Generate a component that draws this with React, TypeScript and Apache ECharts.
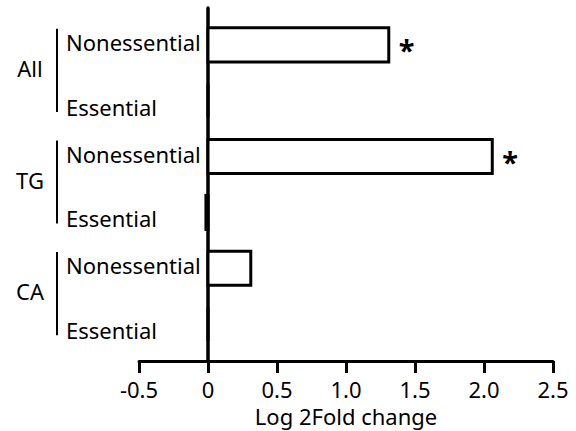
import React, { useEffect, useRef } from "react";
import * as echarts from "echarts";

// Rows, top to bottom: each group has a Nonessential and an Essential row
const categories = ["Nonessential", "Essential", "Nonessential", "Essential", "Nonessential", "Essential"];
const groups = ["All", "TG", "CA"];
const log2FoldChange = [1.31, 0, 2.06, -0.015, 0.31, 0];
const significant = [true, false, true, false, false, false];
const xMin = -0.5;
const xMax = 2.5;
const xStep = 0.5;

const FONT = '"Noto Sans", sans-serif';
const TEXT_SIZE = 22;
const Y_PAD = 0.66; // empty space above the first and below the last row, in row units
const BAR_SIZE = 0.61; // bar thickness, in row units
const GRID_LEFT = 139;
const GRID_RIGHT = 23;
const ROW_LABEL_WIDTH = 137;

export default function App() {
  const ref = useRef<HTMLDivElement>(null);

  useEffect(() => {
    const chart = echarts.init(ref.current!, null, { renderer: "svg" });

    chart.setOption({
      animation: false,
      backgroundColor: "#ffffff",
      grid: { left: GRID_LEFT, right: GRID_RIGHT, top: 8, bottom: 70, containLabel: false, outerBoundsMode: "none" },
      xAxis: {
        type: "value",
        min: xMin,
        max: xMax,
        interval: xStep,
        axisLine: { onZero: false, lineStyle: { color: "#000", width: 3 } },
        axisTick: { show: true, inside: false, length: 12, lineStyle: { color: "#000", width: 3 } },
        splitLine: { show: false },
        axisLabel: {
          color: "#000",
          fontFamily: FONT,
          fontSize: TEXT_SIZE,
          lineHeight: 18,
          margin: 19,
          formatter: (v: number) => (v === 0 ? "0" : v.toFixed(1)),
        },
        name: "Log 2Fold change",
        nameLocation: "middle",
        nameGap: 44,
        nameTextStyle: { color: "#000", fontFamily: FONT, fontSize: TEXT_SIZE, lineHeight: 18 },
      },
      yAxis: {
        type: "value",
        inverse: true,
        min: -Y_PAD,
        max: categories.length - 1 + Y_PAD,
        axisLine: { show: true, onZero: true, lineStyle: { color: "#000", width: 3.5 } },
        axisTick: { show: false },
        splitLine: { show: false },
        axisLabel: {
          customValues: categories.map((_, i) => i),
          // row labels sit just left of the zero line
          margin: -((0 - xMin) / (xMax - xMin)) * (576 - GRID_LEFT - GRID_RIGHT) + 5,
          color: "#000",
          fontFamily: FONT,
          fontSize: TEXT_SIZE,
          formatter: (v: number) => {
            const name = categories[Math.round(v)] ?? "";
            return name === "Nonessential" ? `{n|${name}}` : `{e|${name}}`;
          },
          rich: {
            n: { width: ROW_LABEL_WIDTH, align: "left", padding: [0, 0, 6, 0], fontFamily: FONT, fontSize: TEXT_SIZE, color: "#000" },
            e: { width: ROW_LABEL_WIDTH, align: "left", padding: [12, 0, 0, 0], fontFamily: FONT, fontSize: TEXT_SIZE, color: "#000" },
          },
        },
      },
      series: [
        {
          type: "custom",
          clip: false,
          encode: { x: 0, y: 1 },
          data: log2FoldChange.map((v, i) => [v, i, significant[i] ? 1 : 0]),
          renderItem: (_params: any, api: any) => {
            const v = api.value(0) as number;
            const i = api.value(1) as number;
            const p0 = api.coord([0, i]);
            const p1 = api.coord([v, i]);
            const h = Math.abs(api.size([0, BAR_SIZE])[1]);
            const children: any[] = [
              {
                type: "rect",
                shape: {
                  x: Math.min(p0[0], p1[0]),
                  y: p0[1] - h / 2,
                  width: Math.abs(p1[0] - p0[0]),
                  height: h,
                },
                style: { fill: "#fff", stroke: "#000", lineWidth: 3 },
              },
            ];
            if (api.value(2)) {
              children.push({
                type: "text",
                x: p1[0] + 10,
                y: p0[1] + 5,
                style: {
                  text: "*",
                  fill: "#000",
                  fontFamily: FONT,
                  fontSize: 29,
                  fontWeight: "bold",
                  align: "left",
                  verticalAlign: "middle",
                },
              });
            }
            return { type: "group", children };
          },
        },
      ],
    });

    // Group brackets and group names to the left of the row labels
    const toY = (row: number) => chart.convertToPixel({ gridIndex: 0 }, [0, row])[1];
    const groupGraphics = groups.flatMap((g, k) => {
      const first = k * 2;
      return [
        {
          type: "line",
          shape: { x1: 57, y1: toY(first - 0.29), x2: 57, y2: toY(first + 1.2) },
          style: { stroke: "#000", lineWidth: 2 },
        },
        {
          type: "text",
          x: 30,
          y: toY(first + 0.5) - 5,
          style: {
            text: g,
            fill: "#000",
            fontFamily: FONT,
            fontSize: TEXT_SIZE,
            align: "center",
            verticalAlign: "middle",
          },
        },
      ];
    });
    chart.setOption({ graphic: groupGraphics });

    return () => chart.dispose();
  }, []);

  return (
    <div
      ref={ref}
      style={{ position: "fixed", left: 0, top: 0, width: 576, height: 431, background: "#fff" }}
    />
  );
}
